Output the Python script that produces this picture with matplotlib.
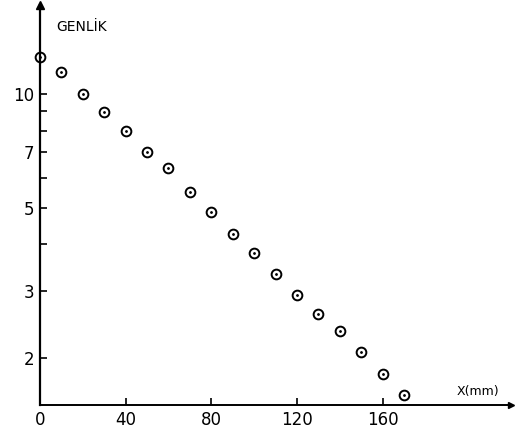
import matplotlib
matplotlib.use('Agg')
import matplotlib.pyplot as plt
from matplotlib.ticker import FixedLocator, NullFormatter, FixedFormatter

# Olculen genlik degerleri (log eksen)
x_mm = [0, 10, 20, 30, 40, 50, 60, 70, 80, 90, 100, 110, 120, 130, 140, 150, 160, 170]
genlik = [12.5, 11.4, 10.0, 8.96, 7.98, 7.03, 6.37, 5.51, 4.87, 4.26, 3.79,
          3.34, 2.94, 2.62, 2.35, 2.07, 1.81, 1.59]

x_ticks = [0, 40, 80, 120, 160]
y_major = [2, 3, 5, 7, 10]
y_minor = [4, 6, 8, 9]

fig = plt.figure(figsize=(5.19, 4.32), dpi=100)
ax = fig.add_axes([40 / 519, 27 / 432, 471 / 519, 400 / 432])

ax.set_yscale('log')
ax.set_xlim(0, 220)
ax.set_ylim(1.5, 17.2)

# acik daireler + ortada nokta
ax.plot(x_mm, genlik, linestyle='none', marker='o', markersize=7,
        markerfacecolor='none', markeredgecolor='black', markeredgewidth=1.4,
        clip_on=False, zorder=3)
ax.plot(x_mm, genlik, linestyle='none', marker='.', markersize=2,
        color='black', clip_on=False, zorder=3)

ax.yaxis.set_major_locator(FixedLocator(y_major))
ax.yaxis.set_major_formatter(FixedFormatter([str(v) for v in y_major]))
ax.yaxis.set_minor_locator(FixedLocator(y_minor))
ax.yaxis.set_minor_formatter(NullFormatter())
ax.set_xticks(x_ticks)
ax.set_xticklabels([str(v) for v in x_ticks])

ax.tick_params(axis='both', which='both', direction='in', length=5, width=1.2,
               labelsize=12, pad=4, colors='black')

for s in ['top', 'right']:
    ax.spines[s].set_visible(False)
ax.spines['left'].set_linewidth(1.6)
ax.spines['bottom'].set_linewidth(1.4)

# ok uclari
ax.plot(0, 1, marker='^', color='black', markersize=6, transform=ax.transAxes, clip_on=False)
ax.plot(1, 0, marker='>', color='black', markersize=5, transform=ax.transAxes, clip_on=False)

ax.text(0.035, 0.945, 'GENLİK', transform=ax.transAxes, fontsize=10, va='center')
ax.text(0.885, 0.035, 'X(mm)', transform=ax.transAxes, fontsize=9, va='center')

plt.savefig('out.png', dpi=100)
